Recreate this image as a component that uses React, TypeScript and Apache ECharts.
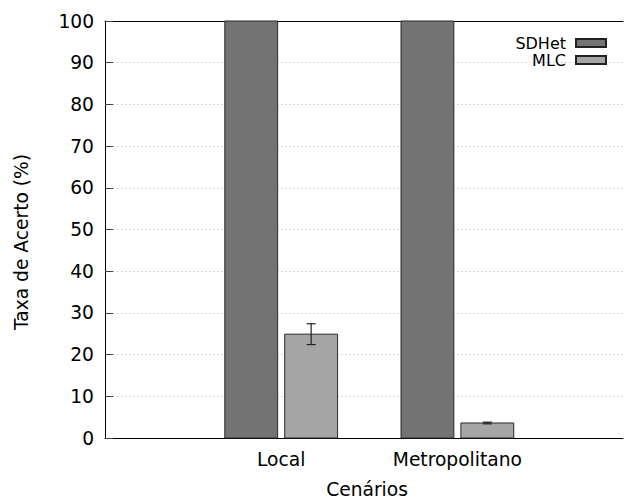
import React, { useEffect, useRef } from "react";
import * as echarts from "echarts";

// Scenario categories and hit rates (%) per method
const categories = ["Local", "Metropolitano"];
const sdhetValues = [100, 100];
const sdhetErrors = [0, 0];
const mlcValues = [24.9, 3.6];
const mlcErrors = [2.5, 0.2];
const yTicks = [0, 10, 20, 30, 40, 50, 60, 70, 80, 90, 100];

const FONT = "DejaVu Sans";
const FS = 18.67; // 14pt
const BAR_W = 0.3; // bar width in x units (one unit per scenario)
const BAR_OFF = 0.17; // offset of each bar from the scenario centre

function makeBarSeries(
  name: string,
  values: number[],
  errors: number[],
  offset: number,
  fill: string
) {
  const data = values.map((v, i) => [i, v, errors[i]]);
  return {
    type: "custom",
    name,
    xAxisIndex: 0,
    yAxisIndex: 0,
    itemStyle: { color: fill, borderColor: "#222", borderWidth: 1 },
    data,
    z: 3,
    renderItem: (params: any, api: any) => {
      const x = api.value(0) + offset;
      const v = api.value(1);
      const e = api.value(2);
      const p0 = api.coord([x - BAR_W / 2, 0]);
      const p1 = api.coord([x + BAR_W / 2, v]);
      const children: any[] = [
        {
          type: "rect",
          shape: { x: p0[0], y: p1[1], width: p1[0] - p0[0], height: p0[1] - p1[1] },
          style: { fill, stroke: "#2a2a2a", lineWidth: 1 },
        },
      ];
      if (e > 0) {
        const hi = api.coord([x, v + e]);
        const lo = api.coord([x, v - e]);
        const cap = 4.5;
        const st = { stroke: "#222", lineWidth: 1.2 };
        children.push(
          { type: "line", shape: { x1: hi[0], y1: hi[1], x2: lo[0], y2: lo[1] }, style: st },
          { type: "line", shape: { x1: hi[0] - cap, y1: hi[1], x2: hi[0] + cap, y2: hi[1] }, style: st },
          { type: "line", shape: { x1: lo[0] - cap, y1: lo[1], x2: lo[0] + cap, y2: lo[1] }, style: st }
        );
      }
      return { type: "group", children };
    },
  };
}

export default function App() {
  const ref = useRef<HTMLDivElement>(null);

  useEffect(() => {
    if (!ref.current) return;
    const chart = echarts.init(ref.current, undefined, { renderer: "svg" });
    const xMin = -1;
    const xMax = 1.94;
    chart.setOption({
      animation: false,
      textStyle: { fontFamily: FONT, color: "#000" },
      grid: { left: 105, right: 1, top: 21, bottom: 62, outerBoundsMode: "none" },
      legend: {
        orient: "vertical",
        right: 12,
        top: 30,
        align: "right",
        itemWidth: 30,
        itemHeight: 8,
        itemGap: 1,
        icon: "rect",
        textStyle: {
          fontFamily: FONT,
          fontSize: 16,
          lineHeight: 16,
          color: "#000",
          padding: [0, 5, 0, 0],
        },
        data: ["SDHet", "MLC"],
      },
      graphic: [
        {
          type: "text",
          x: 21,
          y: 242,
          rotation: Math.PI / 2,
          silent: true,
          style: {
            text: "Taxa de Acerto (%)",
            fontFamily: FONT,
            fontSize: FS,
            fill: "#000",
            align: "center",
            verticalAlign: "middle",
          },
        },
      ],
      xAxis: [
        {
          type: "value",
          min: xMin,
          max: xMax,
          interval: 1,
          position: "bottom",
          axisLine: { show: true, onZero: false, lineStyle: { color: "#000", width: 1 } },
          axisTick: { show: false },
          splitLine: { show: false },
          axisLabel: {
            fontFamily: FONT,
            fontSize: FS,
            color: "#000",
            margin: 12,
            showMinLabel: true,
            showMaxLabel: false,
            formatter: (v: number) => {
              const i = Math.round(v);
              return Math.abs(v - i) < 1e-6 && i >= 0 && i < categories.length ? categories[i] : "";
            },
          },
          name: "Cenários",
          nameLocation: "middle",
          nameGap: 42,
          nameTextStyle: { fontFamily: FONT, fontSize: FS, color: "#000", padding: [0, 0, 0, 6] },
        },
        {
          type: "value",
          min: xMin,
          max: xMax,
          position: "top",
          axisLine: { show: true, onZero: false, lineStyle: { color: "#000", width: 1 } },
          axisTick: { show: false },
          axisLabel: { show: false },
          splitLine: { show: false },
        },
      ],
      yAxis: {
        type: "value",
        min: 0,
        max: 100,
        interval: 10,
        axisLine: { show: true, onZero: false, lineStyle: { color: "#000", width: 1 } },
        axisTick: { show: true, inside: true, length: 8, lineStyle: { color: "#444" } },
        splitLine: { show: true, lineStyle: { color: "#c8c8c8", type: [1.5, 2.5], width: 1 } },
        axisLabel: {
          fontFamily: FONT,
          fontSize: FS,
          color: "#000",
          margin: 11,
          customValues: yTicks,
        },
      },
      series: [
        makeBarSeries("SDHet", sdhetValues, sdhetErrors, -BAR_OFF, "#737373"),
        makeBarSeries("MLC", mlcValues, mlcErrors, BAR_OFF, "#a6a6a6"),
      ],
    });
    return () => chart.dispose();
  }, []);

  return (
    <div
      ref={ref}
      style={{ position: "absolute", left: 0, top: 0, width: 624, height: 500, background: "#fff" }}
    />
  );
}
